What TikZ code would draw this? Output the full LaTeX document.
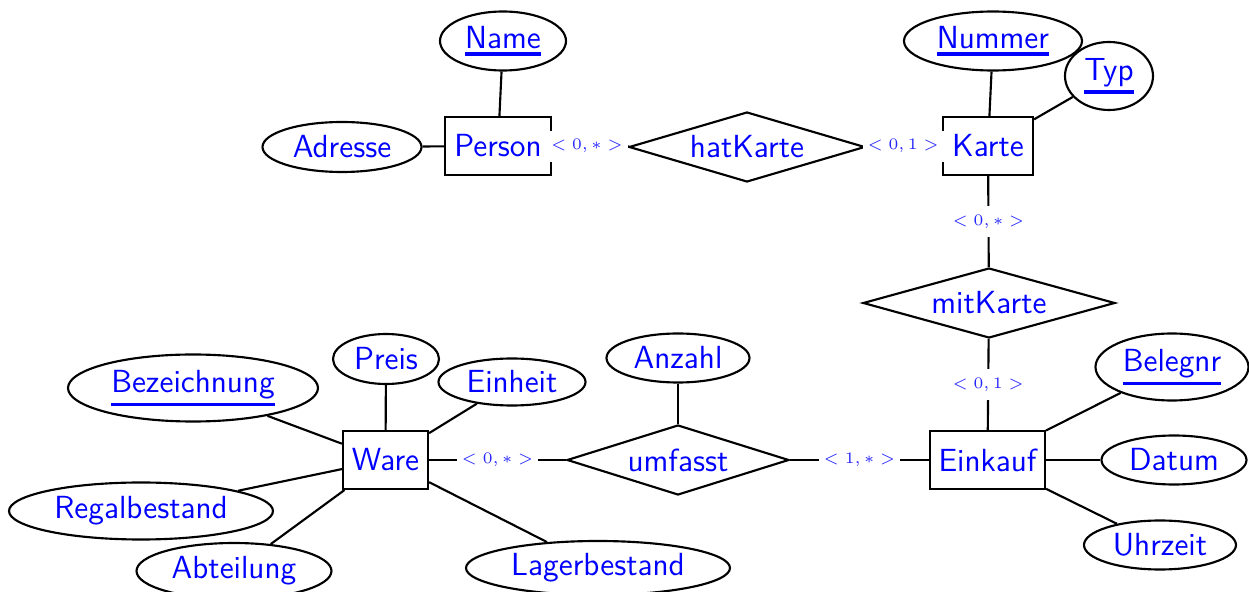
\documentclass[tikz,border=0pt]{standalone}
\usetikzlibrary{shapes.geometric}
\def\u{0.375pt}
\newcommand\ulx[1]{\setbox0\hbox{#1}\rlap{\rule[-\dimexpr\dp0+2.5pt\relax]{\wd0}{1.2pt}}\box0}
\tikzset{
  base/.style={draw=black, line width=0.8pt, text=blue, font=\fontsize{12}{14}\sffamily},
  ent/.style={base, rectangle, inner sep=2pt},
  attr/.style={base, ellipse, inner sep=0pt},
  rel/.style={base, diamond, inner sep=0pt, aspect=3.4},
  card/.style={fill=white, text=blue!85, font=\fontsize{6.4}{7.5}\selectfont, inner xsep=1.8pt, inner ysep=3.3pt},
  conn/.style={line width=0.8pt}
}
\begin{document}
\begin{tikzpicture}[x=0.375pt, y=-0.375pt]
\useasboundingbox (0,0) rectangle (1249,592);
% entities
\node[ent, minimum width=106*\u, minimum height=58*\u] (person) at (498,146) {Person};
\node[ent, minimum width=90*\u, minimum height=58*\u] (karte) at (988,146) {Karte};
\node[ent, minimum width=85*\u, minimum height=58*\u] (ware) at (385.5,460) {Ware};
\node[ent, minimum width=115*\u, minimum height=58*\u] (einkauf) at (987.5,460) {Einkauf};
% relationships
\node[rel, minimum width=236*\u, minimum height=70*\u] (hatkarte) at (747,147) {hatKarte};
\node[rel, minimum width=252*\u, minimum height=70*\u] (mitkarte) at (989,303) {mitKarte};
\node[rel, minimum width=222*\u, minimum height=70*\u] (umfasst) at (678,460) {umfasst};
% attributes
\node[attr, minimum width=126*\u, minimum height=59*\u] (name) at (503,41) {\ulx{Name}};
\node[attr, minimum width=159*\u, minimum height=50*\u] (adresse) at (342,147) {Adresse};
\node[attr, minimum width=178*\u, minimum height=59*\u] (nummer) at (993,41) {\ulx{Nummer}};
\node[attr, minimum width=88*\u, minimum height=68*\u] (typ) at (1109,76) {\ulx{Typ}};
\node[attr, minimum width=153*\u, minimum height=67*\u] (belegnr) at (1172,367) {\ulx{Belegnr}};
\node[attr, minimum width=145*\u, minimum height=49*\u] (datum) at (1174,460) {Datum};
\node[attr, minimum width=152*\u, minimum height=49*\u] (uhrzeit) at (1160,545) {Uhrzeit};
\node[attr, minimum width=143*\u, minimum height=49*\u] (anzahl) at (678,358) {Anzahl};
\node[attr, minimum width=106*\u, minimum height=50*\u] (preis) at (386,359) {Preis};
\node[attr, minimum width=147*\u, minimum height=47*\u] (einheit) at (512,382) {Einheit};
\node[attr, minimum width=250*\u, minimum height=67*\u] (bezeichnung) at (193,388) {\ulx{Bezeichnung}};
\node[attr, minimum width=264*\u, minimum height=57*\u] (regal) at (141,511) {Regalbestand};
\node[attr, minimum width=195*\u, minimum height=56*\u] (abteilung) at (234,571) {Abteilung};
\node[attr, minimum width=264*\u, minimum height=54*\u] (lager) at (598,568) {Lagerbestand};
% attribute connectors
\draw[conn] (name) -- (person);
\draw[conn] (adresse) -- (person);
\draw[conn] (nummer) -- (karte);
\draw[conn] (typ) -- (karte);
\draw[conn] (einkauf) -- (belegnr);
\draw[conn] (einkauf) -- (datum);
\draw[conn] (einkauf) -- (uhrzeit);
\draw[conn] (anzahl) -- (umfasst);
\draw[conn] (ware) -- (preis);
\draw[conn] (ware) -- (einheit);
\draw[conn] (ware) -- (bezeichnung);
\draw[conn] (ware) -- (regal);
\draw[conn] (ware) -- (abteilung);
\draw[conn] (ware) -- (lager);
% relationship connectors with cardinalities
\draw[conn] (person) -- node[card, pos=0.45] {$<0,*>$} (hatkarte);
\draw[conn] (hatkarte) -- node[card] {$<0,1>$} (karte);
\draw[conn] (karte) -- node[card] {$<0,*>$} (mitkarte);
\draw[conn] (mitkarte) -- node[card] {$<0,1>$} (einkauf);
\draw[conn] (ware) -- node[card] {$<0,*>$} (umfasst);
\draw[conn] (umfasst) -- node[card] {$<1,*>$} (einkauf);
\end{tikzpicture}
\end{document}
